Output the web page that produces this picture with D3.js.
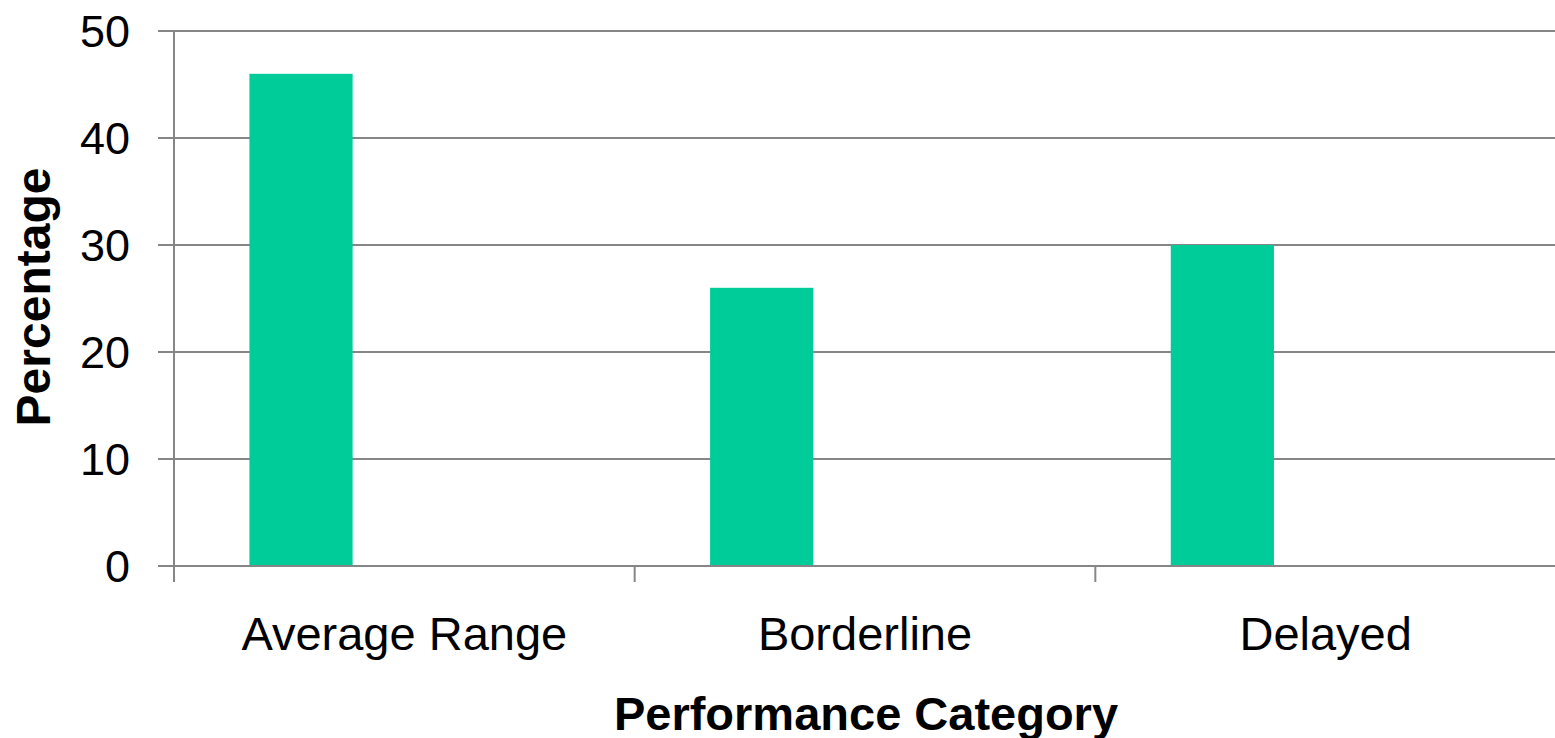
<!DOCTYPE html>
<html><head><meta charset="utf-8">
<script src="https://cdn.jsdelivr.net/npm/d3@7"></script>
<style>
html,body{margin:0;padding:0;background:#fff;}
svg{display:block;}
text{font-family:"Liberation Sans",Arial,sans-serif;fill:#000;}
</style></head>
<body><svg id="c" width="1555" height="738"></svg>
<script>
const categories = ["Average Range", "Borderline", "Delayed"];
const values = [46, 26, 30];
const yTicks = [0, 10, 20, 30, 40, 50];
const xTitle = "Performance Category";
const yTitle = "Percentage";

(function () {
const svg = d3.select("#c");
const pLeft = 174, pRight = 1556, pTop = 31, pBottom = 566;
const axisColor = "#868686";

const y = d3.scaleLinear().domain([0, 50]).range([pBottom, pTop]);
const xCat = d3.scaleBand().domain(categories).range([pLeft, pRight]);
const xBar = d3.scaleBand().domain(categories).range([pLeft, pRight])
  .paddingInner(0.776).paddingOuter(0.388).align(0.211);

// gridlines + y ticks
svg.append("g").selectAll("line").data(yTicks).join("line")
  .attr("x1", pLeft - 16).attr("x2", pRight)
  .attr("y1", d => Math.round(y(d))).attr("y2", d => Math.round(y(d)))
  .attr("stroke", axisColor).attr("stroke-width", 2);

// bars
svg.append("g").selectAll("rect").data(values).join("rect")
  .attr("x", (d, i) => xBar(categories[i]))
  .attr("width", xBar.bandwidth())
  .attr("y", d => y(d))
  .attr("height", d => y(0) - y(d))
  .attr("fill", "#00CC99");

// axis lines
svg.append("line").attr("x1", pLeft).attr("x2", pLeft).attr("y1", pTop).attr("y2", pBottom + 16)
  .attr("stroke", axisColor).attr("stroke-width", 2);
const bounds = categories.map(c => xCat(c)).concat([pRight]);
svg.append("g").selectAll("line").data(bounds).join("line")
  .attr("x1", d => d).attr("x2", d => d).attr("y1", pBottom).attr("y2", pBottom + 16)
  .attr("stroke", axisColor).attr("stroke-width", 2);
svg.append("line").attr("x1", pLeft).attr("x2", pRight).attr("y1", Math.round(y(0))).attr("y2", Math.round(y(0)))
  .attr("stroke", axisColor).attr("stroke-width", 2);

// y tick labels
svg.append("g").selectAll("text").data(yTicks).join("text")
  .attr("x", 130).attr("y", d => y(d)).attr("dy", "0.35em")
  .attr("text-anchor", "end").style("font-size", "45px")
  .text(d => d);

// category labels
svg.append("g").selectAll("text").data(categories).join("text")
  .attr("x", d => xCat(d) + xCat.bandwidth() / 2).attr("y", 650)
  .attr("text-anchor", "middle").style("font-size", "47px")
  .text(d => d);

// axis titles
svg.append("text").attr("x", 866).attr("y", 730).attr("text-anchor", "middle")
  .style("font-size", "47px").style("font-weight", "bold").text(xTitle);
svg.append("text").attr("transform", "translate(50,297) rotate(-90)")
  .attr("text-anchor", "middle").style("font-size", "48px").style("font-weight", "bold").text(yTitle);
})();
</script></body></html>
